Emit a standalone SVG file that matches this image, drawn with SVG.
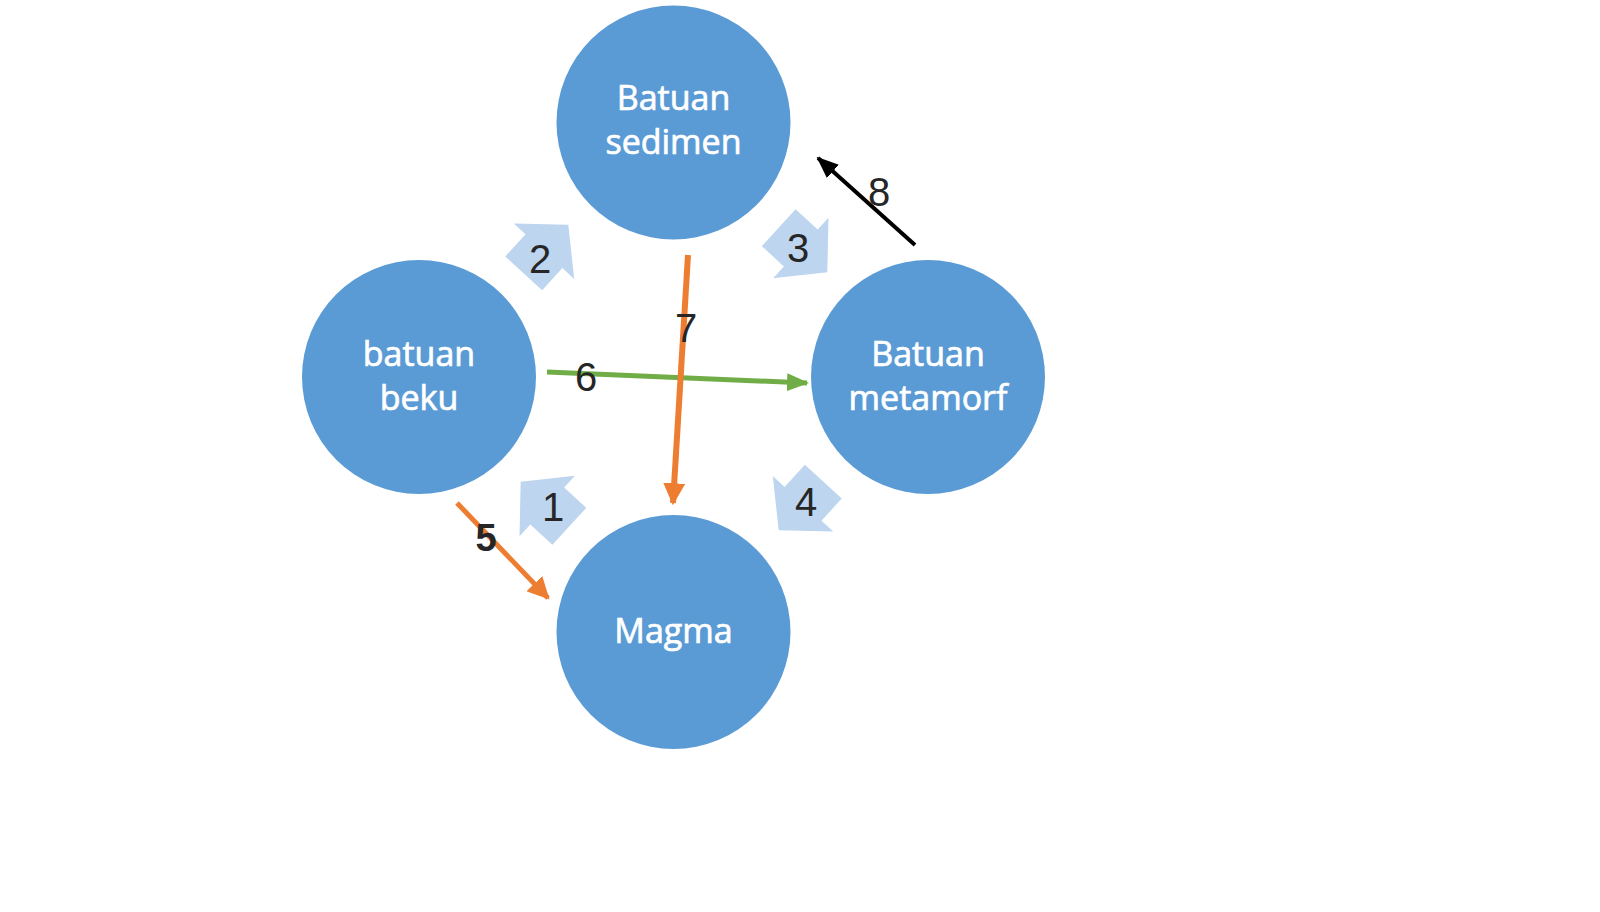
<svg xmlns="http://www.w3.org/2000/svg" width="1600" height="912" viewBox="0 0 1600 912">
  <style>
    .node { fill: #5B9BD5; }
    .ntext { font-family: "Open Sans", "Liberation Sans", sans-serif; font-size: 34px; fill: #FFFFFF; stroke: #FFFFFF; stroke-width: 0.7px; text-anchor: middle; }
    .barrow { fill: #BDD5EE; }
    .num { font-family: "Liberation Sans", Arial, sans-serif; font-size: 40px; fill: #262626; text-anchor: middle; dominant-baseline: central; }
    .numb { font-family: "Liberation Sans", Arial, sans-serif; font-size: 38px; font-weight: bold; fill: #262626; text-anchor: middle; dominant-baseline: central; }
    .ln { fill: none; stroke-linecap: butt; }
  </style>
  <defs>
    <polygon id="blk" points="-33,-25 -3,-25 -3,-41 33,0 -3,41 -3,25 -33,25"/>
    <marker id="mOrange" markerUnits="userSpaceOnUse" markerWidth="22" markerHeight="22" viewBox="0 0 20 20" refX="18" refY="10" orient="auto">
      <path d="M0,0 L20,10 L0,20 Z" fill="#ED7D31"/>
    </marker>
    <marker id="mGreen" markerUnits="userSpaceOnUse" markerWidth="22" markerHeight="20" viewBox="0 0 22 20" refX="20" refY="10" orient="auto">
      <path d="M0,1 L22,10 L0,19 Z" fill="#70AD47"/>
    </marker>
    <marker id="mBlack" markerUnits="userSpaceOnUse" markerWidth="22" markerHeight="18" viewBox="0 0 22 18" refX="20" refY="9" orient="auto">
      <path d="M0,0 L22,9 L0,18 Z" fill="#000000"/>
    </marker>
  </defs>
  <rect x="0" y="0" width="1600" height="912" fill="#FFFFFF"/>

  <g id="cycle-arrows">
    <use href="#blk" class="barrow" transform="translate(546,249) rotate(-47.5)"/>
    <use href="#blk" class="barrow" transform="translate(803,250) rotate(42.5)"/>
    <use href="#blk" class="barrow" transform="translate(801,506) rotate(132.5)"/>
    <use href="#blk" class="barrow" transform="translate(545,504) rotate(222.5)"/>
  </g>

  <g id="node-sedimen">
    <circle class="node" cx="673.5" cy="122.5" r="117"/>
    <text class="ntext" x="673.5" y="110">Batuan</text>
    <text class="ntext" x="673.5" y="154">sedimen</text>
  </g>
  <g id="node-beku">
    <circle class="node" cx="419" cy="377" r="117"/>
    <text class="ntext" x="419" y="366">batuan</text>
    <text class="ntext" x="419" y="410">beku</text>
  </g>
  <g id="node-metamorf">
    <circle class="node" cx="928" cy="377" r="117"/>
    <text class="ntext" x="928" y="366">Batuan</text>
    <text class="ntext" x="928" y="410">metamorf</text>
  </g>
  <g id="node-magma">
    <circle class="node" cx="673.5" cy="632" r="117"/>
    <text class="ntext" x="673.5" y="643">Magma</text>
  </g>

  <g id="connectors">
    <line class="ln" x1="457" y1="503" x2="548" y2="598" stroke="#ED7D31" stroke-width="5" marker-end="url(#mOrange)"/>
    <line class="ln" x1="547" y1="372" x2="807" y2="383" stroke="#70AD47" stroke-width="5" marker-end="url(#mGreen)"/>
    <line class="ln" x1="688" y1="255" x2="673" y2="503" stroke="#ED7D31" stroke-width="6" marker-end="url(#mOrange)"/>
    <line class="ln" x1="915" y1="245" x2="818" y2="158" stroke="#000000" stroke-width="4" marker-end="url(#mBlack)"/>
  </g>

  <g id="labels">
    <text class="num" x="553" y="507">1</text>
    <text class="num" x="540" y="259">2</text>
    <text class="num" x="798" y="248">3</text>
    <text class="num" x="806" y="502">4</text>
    <text class="numb" x="486" y="538">5</text>
    <text class="num" x="586" y="377">6</text>
    <text class="num" x="686" y="328">7</text>
    <text class="num" x="879" y="192">8</text>
  </g>
</svg>
